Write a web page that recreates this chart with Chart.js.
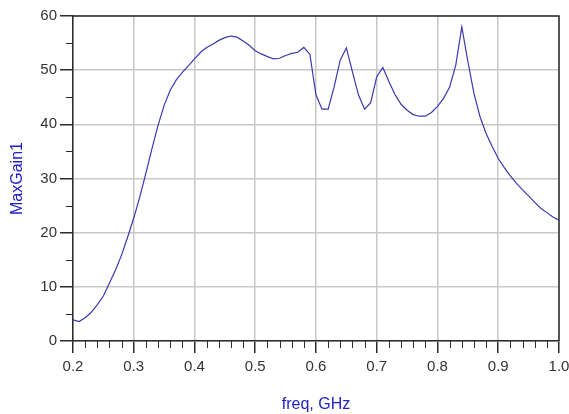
<!DOCTYPE html>
<html>
<head>
<meta charset="utf-8">
<script src="https://cdn.jsdelivr.net/npm/chart.js@4/dist/chart.umd.min.js"></script>
<style>
    html, body { margin: 0; padding: 0; background: #fff; }
    #wrap { width: 569px; height: 414px; }
</style>
</head>
<body>
<div id="wrap"><canvas id="chart" width="569" height="414"></canvas></div>
<script>
// freq in GHz, one sample every 10 MHz
const freq = [
    0.20, 0.21, 0.22, 0.23, 0.24, 0.25, 0.26, 0.27, 0.28, 0.29,
    0.30, 0.31, 0.32, 0.33, 0.34, 0.35, 0.36, 0.37, 0.38, 0.39,
    0.40, 0.41, 0.42, 0.43, 0.44, 0.45, 0.46, 0.47, 0.48, 0.49,
    0.50, 0.51, 0.52, 0.53, 0.54, 0.55, 0.56, 0.57, 0.58, 0.59,
    0.60, 0.61, 0.62, 0.63, 0.64, 0.65, 0.66, 0.67, 0.68, 0.69,
    0.70, 0.71, 0.72, 0.73, 0.74, 0.75, 0.76, 0.77, 0.78, 0.79,
    0.80, 0.81, 0.82, 0.83, 0.84, 0.85, 0.86, 0.87, 0.88, 0.89,
    0.90, 0.91, 0.92, 0.93, 0.94, 0.95, 0.96, 0.97, 0.98, 0.99,
    1.00,
];

const maxGain1 = [
    3.9, 3.6, 4.3, 5.3, 6.7, 8.3, 10.7, 13.1, 15.9, 19.2,
    22.7, 26.6, 31.0, 35.5, 39.8, 43.5, 46.3, 48.2, 49.6, 50.8,
    52.1, 53.3, 54.2, 54.8, 55.5, 56.0, 56.3, 56.1, 55.4, 54.6,
    53.6, 53.0, 52.5, 52.1, 52.2, 52.7, 53.1, 53.3, 54.2, 52.9,
    45.4, 42.8, 42.8, 47.0, 51.9, 54.1, 49.7, 45.4, 42.8, 44.0,
    48.8, 50.5, 47.9, 45.5, 43.7, 42.6, 41.8, 41.5, 41.5, 42.2,
    43.3, 44.8, 46.9, 50.9, 58.0, 51.6, 45.7, 41.4, 38.3, 35.9,
    33.7, 32.0, 30.5, 29.1, 27.9, 26.8, 25.6, 24.5, 23.7, 22.9,
    22.3,
];

const xRange = [0.2, 1.0];
const yRange = [0, 60];

const AXIS_COLOR = "#2b2b2b";
const GRID_COLOR = "#c8c8c8";
const TEXT_COLOR = "#333333";
const TITLE_COLOR = "#2020c8";
const LINE_COLOR = "#3838b0";
const FONT_FAMILY = "'Liberation Sans', Arial, sans-serif";

// minor ticks and the closed frame (top/right) of the plot box
const frameAndMinorTicks = {
    id: "frameAndMinorTicks",
    afterDraw(chart) {
        const { ctx, chartArea: area, scales } = chart;
        const xs = scales.x;
        const ys = scales.y;
        ctx.save();
        ctx.strokeStyle = AXIS_COLOR;
        ctx.lineWidth = 1;

        ctx.beginPath();
        for (let i = 0; i <= 40; i++) {
            if (i % 5 === 0) continue;
            const px = Math.round(xs.getPixelForValue(0.2 + i * 0.02)) + 0.5;
            ctx.moveTo(px, area.bottom);
            ctx.lineTo(px, area.bottom + 7);
        }
        for (let v = 5; v < 60; v += 10) {
            const py = Math.round(ys.getPixelForValue(v)) + 0.5;
            ctx.moveTo(area.left - 7, py);
            ctx.lineTo(area.left, py);
        }
        ctx.stroke();

        ctx.lineWidth = 1.5;
        ctx.beginPath();
        ctx.moveTo(area.left, area.top);
        ctx.lineTo(area.right, area.top);
        ctx.lineTo(area.right, area.bottom);
        ctx.stroke();
        ctx.restore();
    },
};

new Chart(document.getElementById("chart").getContext("2d"), {
    type: "line",
    data: {
        datasets: [{
            label: "MaxGain1",
            data: freq.map((f, i) => ({ x: f, y: maxGain1[i] })),
            borderColor: LINE_COLOR,
            borderWidth: 1.2,
            pointRadius: 0,
            tension: 0,
            fill: false,
        }],
    },
    options: {
        responsive: false,
        animation: false,
        layout: { padding: { top: 16, right: 10, left: 0, bottom: 0 } },
        plugins: {
            legend: { display: false },
            tooltip: { enabled: false },
        },
        scales: {
            x: {
                type: "linear",
                min: xRange[0],
                max: xRange[1],
                afterFit(scale) {
                    scale.height = 73;
                    scale.paddingLeft = 0;
                    scale.paddingRight = 0;
                },
                ticks: {
                    stepSize: 0.1,
                    padding: 5,
                    color: TEXT_COLOR,
                    font: { family: FONT_FAMILY, size: 15 },
                    callback: (v) => v.toFixed(1),
                },
                grid: {
                    color: GRID_COLOR,
                    lineWidth: 1.5,
                    tickColor: AXIS_COLOR,
                    tickLength: 12,
                    drawTicks: true,
                },
                border: { color: AXIS_COLOR, width: 1.5 },
                title: {
                    display: true,
                    text: "freq, GHz",
                    color: TITLE_COLOR,
                    font: { family: FONT_FAMILY, size: 16 },
                    padding: { top: 1, bottom: 0 },
                },
            },
            y: {
                type: "linear",
                min: yRange[0],
                max: yRange[1],
                afterFit(scale) {
                    scale.width = 73;
                    scale.paddingTop = 0;
                    scale.paddingBottom = 0;
                },
                ticks: {
                    stepSize: 10,
                    padding: 3,
                    color: TEXT_COLOR,
                    font: { family: FONT_FAMILY, size: 15 },
                },
                grid: {
                    color: GRID_COLOR,
                    lineWidth: 1.5,
                    tickColor: AXIS_COLOR,
                    tickLength: 13,
                    drawTicks: true,
                },
                border: { color: AXIS_COLOR, width: 1.5 },
                title: {
                    display: true,
                    text: "MaxGain1",
                    color: TITLE_COLOR,
                    font: { family: FONT_FAMILY, size: 16 },
                    padding: { top: 8, bottom: 0 },
                },
            },
        },
    },
    plugins: [frameAndMinorTicks],
});
</script>
</body>
</html>
